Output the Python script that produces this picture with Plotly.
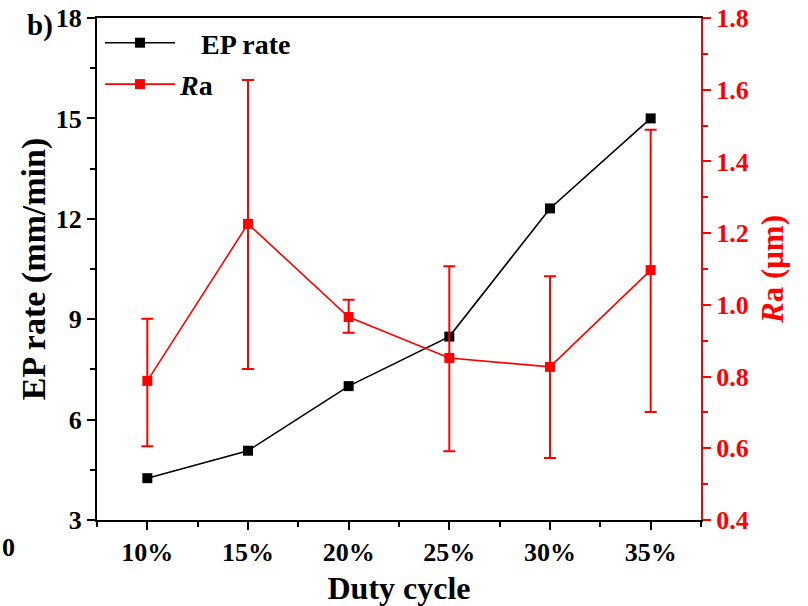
import plotly.graph_objects as go

duty = [10, 15, 20, 25, 30, 35]
ep_rate = [4.25, 5.07, 7.0, 8.48, 12.31, 15.0]
ra = [0.788, 1.226, 0.966, 0.852, 0.827, 1.097]
ra_err_plus = [0.173, 0.401, 0.048, 0.256, 0.253, 0.391]
ra_err_minus = [0.182, 0.405, 0.044, 0.260, 0.254, 0.396]

FONT = "Liberation Serif"

fig = go.Figure()
fig.add_trace(go.Scatter(
    x=duty, y=ep_rate, name="&nbsp;&nbsp;&nbsp;<b>EP rate</b>", mode="lines+markers",
    legendgroup="ep",
    line=dict(color="black", width=1.6),
    marker=dict(symbol="square", size=10, color="black"),
    yaxis="y"))
fig.add_trace(go.Scatter(
    x=duty, y=ra, name="<b><i>R</i>a</b>", mode="lines+markers",
    legendgroup="ra",
    line=dict(color="red", width=1.6),
    marker=dict(symbol="square", size=10, color="red"),
    error_y=dict(type="data", symmetric=False, array=ra_err_plus,
                 arrayminus=ra_err_minus, color="red", thickness=2, width=6),
    yaxis="y2"))

fig.update_layout(
    width=808, height=606,
    margin=dict(l=97, r=107, t=18, b=86),
    paper_bgcolor="white", plot_bgcolor="white",
    font=dict(family=FONT, size=26, color="black"),
    showlegend=True,
    legend=dict(x=0.005, y=1.0, xanchor="left", yanchor="top",
                bgcolor="rgba(0,0,0,0)", itemwidth=70,
                font=dict(family=FONT, size=28), tracegroupgap=2),
    xaxis=dict(range=[7.5, 37.5], tick0=10, dtick=5, ticksuffix="%",
               automargin=False,
               showgrid=False, zeroline=False,
               showline=True, linecolor="black", linewidth=2, mirror=True,
               ticks="outside", ticklen=8, tickwidth=2, tickcolor="black",
               minor=dict(dtick=2.5, tick0=7.5, ticks="outside", ticklen=5,
                          tickwidth=2, tickcolor="black"),
               tickfont=dict(family=FONT, size=26, color="black", weight="bold"),
               title=dict(text="<b>Duty cycle</b>", standoff=12,
                          font=dict(family=FONT, size=32, color="black"))),
    yaxis=dict(range=[3, 18], tick0=3, dtick=3,
               automargin=False,
               showgrid=False, zeroline=False,
               showline=True, linecolor="black", linewidth=2,
               ticks="outside", ticklen=8, tickwidth=2, tickcolor="black",
               minor=dict(dtick=1.5, ticks="outside", ticklen=5,
                          tickwidth=2, tickcolor="black"),
               tickfont=dict(family=FONT, size=26, color="black", weight="bold"),
               title=dict(text="<b>EP rate (mm/min)</b>", standoff=0,
                          font=dict(family=FONT, size=34, color="black"))),
    yaxis2=dict(range=[0.4, 1.8], tick0=0.4, dtick=0.2, tickformat=".1f",
                overlaying="y", side="right", automargin=False,
                showgrid=False, zeroline=False,
                showline=True, linecolor="red", linewidth=2,
                ticks="outside", ticklen=8, tickwidth=2, tickcolor="red",
                minor=dict(dtick=0.1, ticks="outside", ticklen=5,
                           tickwidth=2, tickcolor="red"),
                tickfont=dict(family=FONT, size=26, color="red", weight="bold"),
                title=dict(text="<b><i>R</i>a (μm)</b>", standoff=14,
                           font=dict(family=FONT, size=31, color="red"))),
    annotations=[
        dict(text="<b>b)</b>", xref="paper", yref="paper", x=-0.0695, y=0.986,
             xanchor="right", yanchor="middle", showarrow=False,
             font=dict(family=FONT, size=29, color="black")),
        dict(text="<b>0</b>", xref="paper", yref="paper", x=-0.16, y=-0.054,
             xanchor="left", yanchor="middle", showarrow=False,
             font=dict(family=FONT, size=26, color="black")),
    ],
)

fig.write_html("out.html")
